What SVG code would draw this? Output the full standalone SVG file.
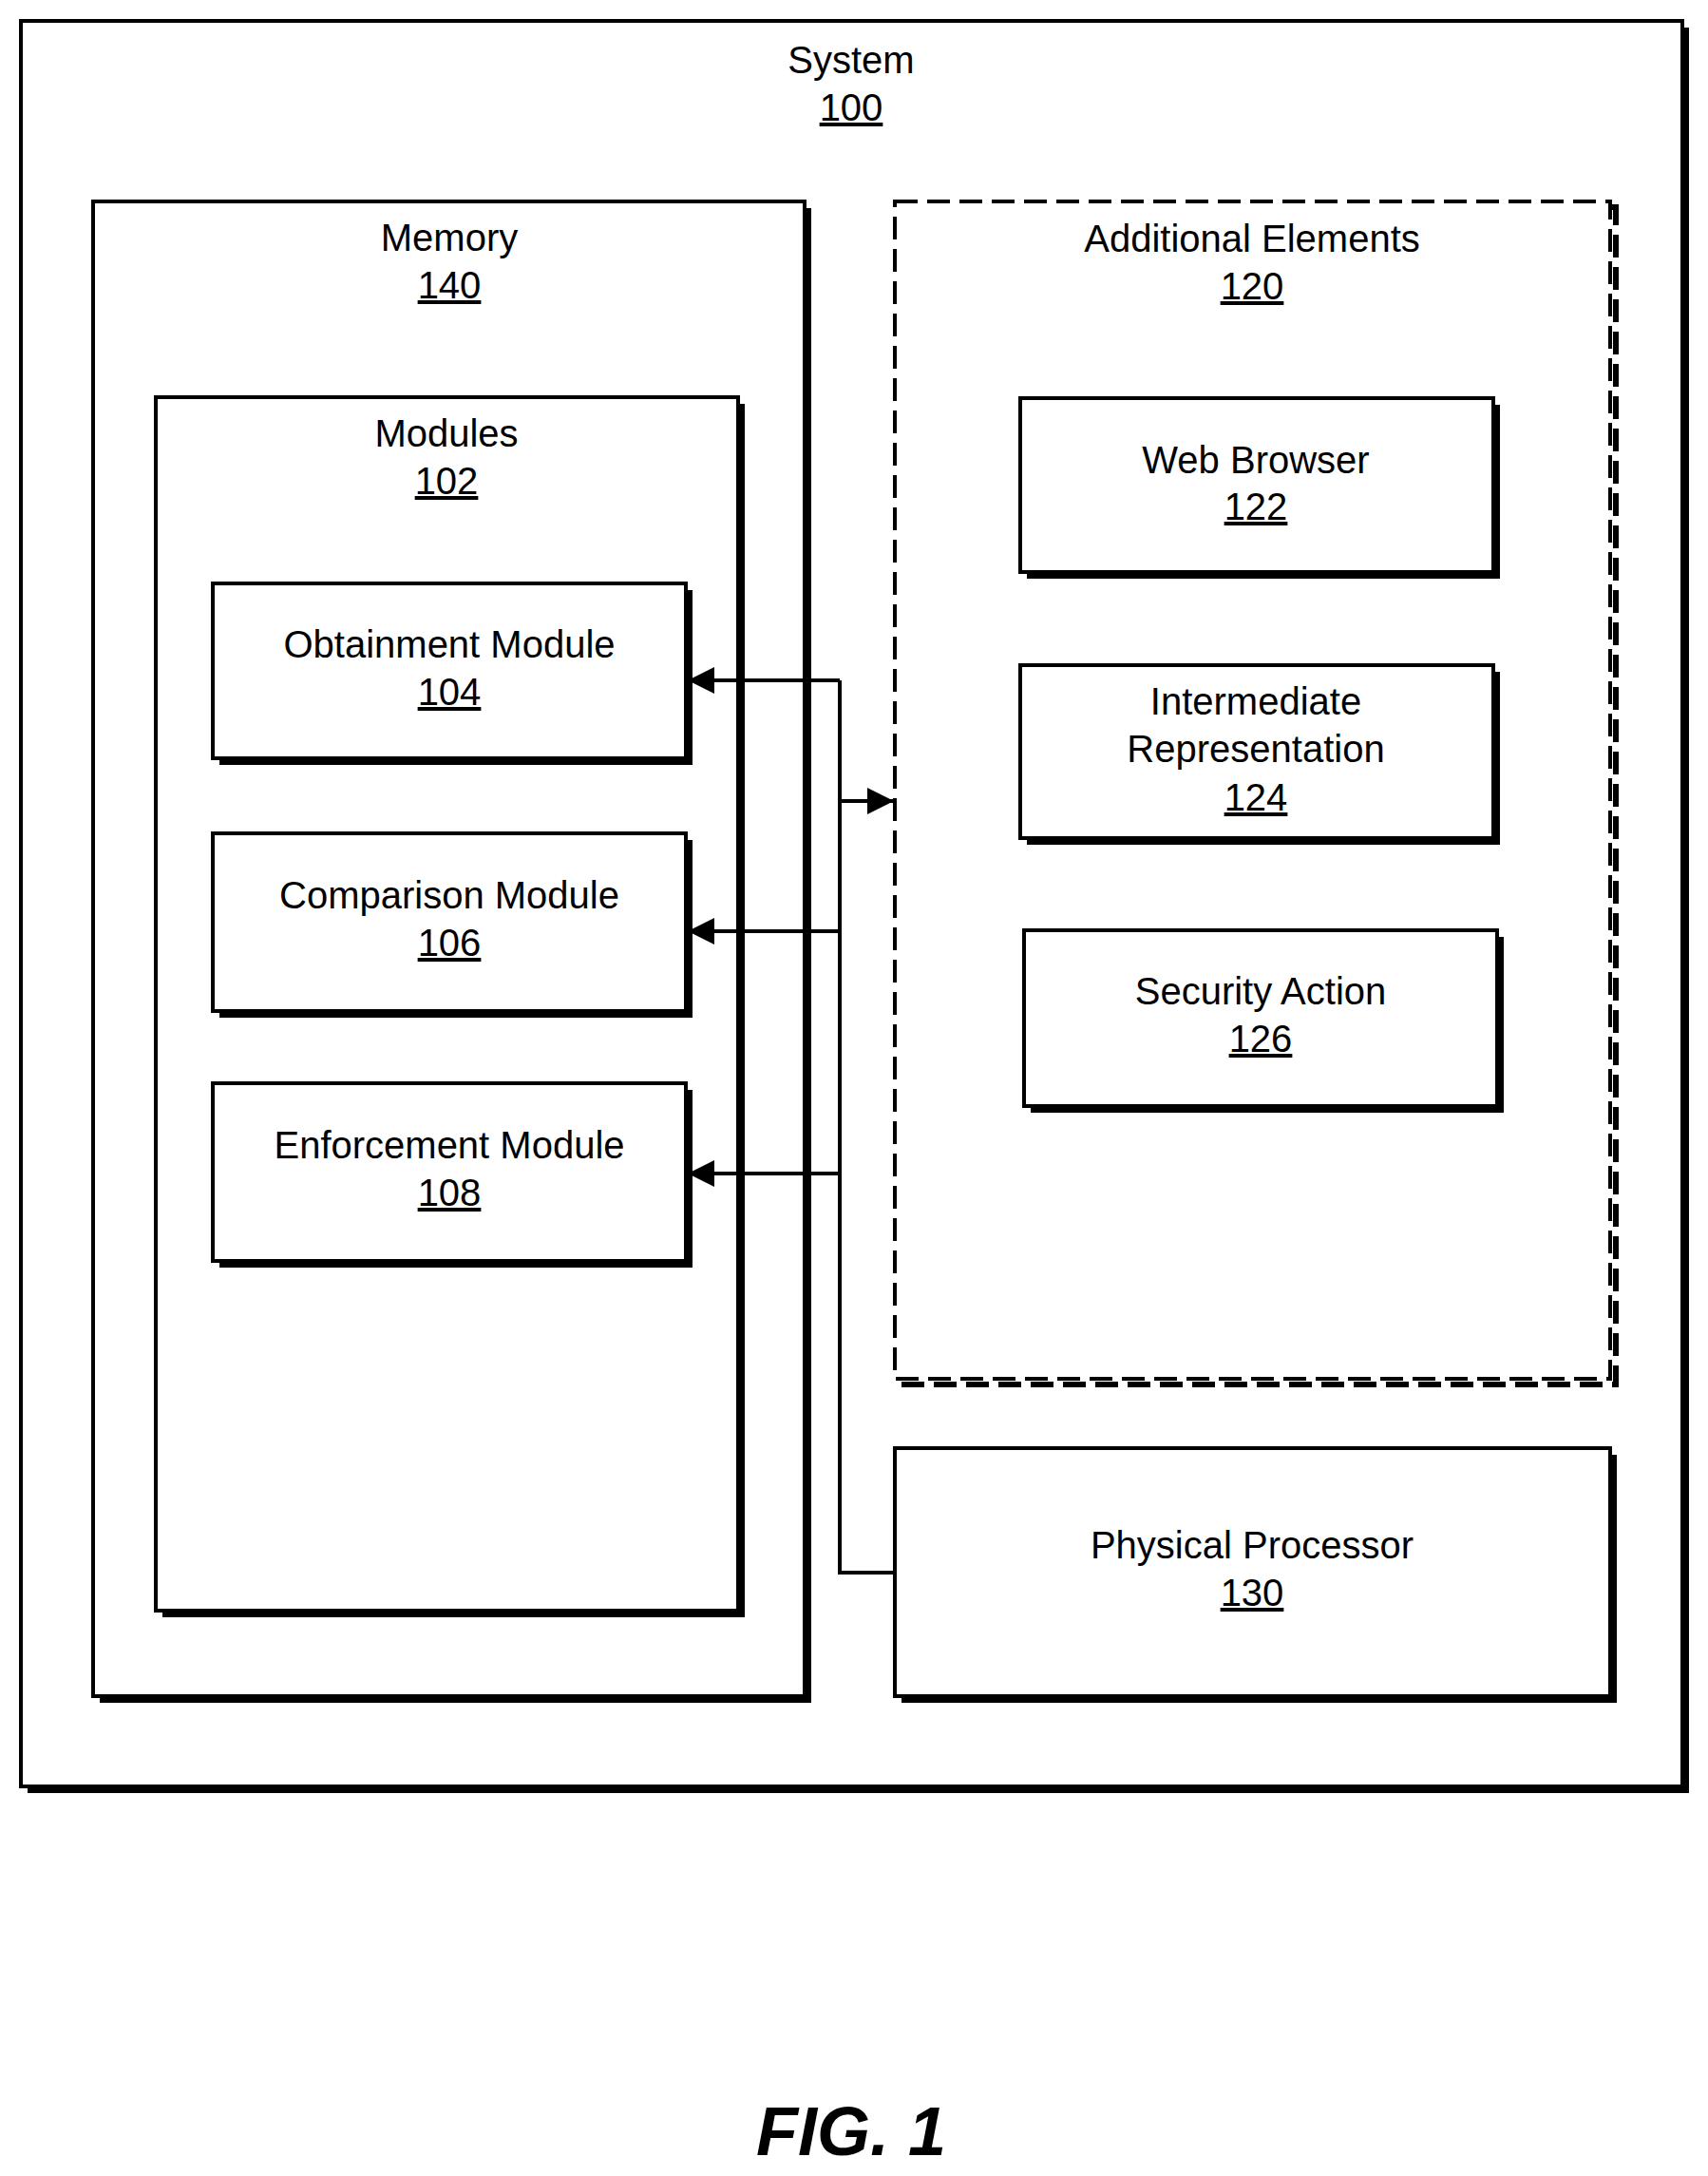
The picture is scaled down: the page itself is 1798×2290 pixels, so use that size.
<svg xmlns="http://www.w3.org/2000/svg" width="1798" height="2290" viewBox="0 0 1798 2290">
<style>
.sh{fill:#000}
.bx{fill:#fff;stroke:#000;stroke-width:4}
.dsh{fill:none;stroke:#000;stroke-width:6;stroke-dasharray:24 10}
.ds{fill:#fff;stroke:#000;stroke-width:4;stroke-dasharray:24 10}
text{font-family:"Liberation Sans",Arial,sans-serif;font-size:40px;text-anchor:middle;fill:#000}
.u{text-decoration:underline}
.ln{fill:none;stroke:#000;stroke-width:4}
</style>
<defs><marker id="a" viewBox="0 0 10 10" refX="10" refY="5" markerWidth="28" markerHeight="28" markerUnits="userSpaceOnUse" orient="auto"><path d="M0,0L10,5L0,10z" fill="#000"/></marker></defs>
<rect width="1798" height="2290" fill="#fff"/>
<g id="system"><rect class="sh" x="29" y="29" width="1749" height="1858"/><rect class="bx" x="22" y="22" width="1749" height="1858"/>
<text x="896" y="77">System</text><text class="u" x="896" y="127">100</text></g>
<g id="memory"><rect class="sh" x="105" y="219" width="749" height="1573"/><rect class="bx" x="98" y="212" width="749" height="1573"/>
<text x="473" y="264">Memory</text><text class="u" x="473" y="314">140</text></g>
<g id="modules"><rect class="sh" x="171" y="425" width="613" height="1277"/><rect class="bx" x="164" y="418" width="613" height="1277"/>
<text x="470" y="470">Modules</text><text class="u" x="470" y="520">102</text></g>
<g id="obtainment"><rect class="sh" x="231" y="621" width="498" height="184"/><rect class="bx" x="224" y="614" width="498" height="184"/>
<text x="473" y="692">Obtainment Module</text><text class="u" x="473" y="742">104</text></g>
<g id="comparison"><rect class="sh" x="231" y="884" width="498" height="187"/><rect class="bx" x="224" y="877" width="498" height="187"/>
<text x="473" y="956">Comparison Module</text><text class="u" x="473" y="1006">106</text></g>
<g id="enforcement"><rect class="sh" x="231" y="1147" width="498" height="187"/><rect class="bx" x="224" y="1140" width="498" height="187"/>
<text x="473" y="1219">Enforcement Module</text><text class="u" x="473" y="1269">108</text></g>
<g id="additional"><rect class="dsh" x="948" y="218" width="753" height="1239"/><rect class="ds" x="942" y="212" width="753" height="1239"/>
<text x="1318" y="265">Additional Elements</text><text class="u" x="1318" y="315">120</text></g>
<g id="browser"><rect class="sh" x="1081" y="426" width="498" height="183"/><rect class="bx" x="1074" y="419" width="498" height="183"/>
<text x="1322" y="498">Web Browser</text><text class="u" x="1322" y="547">122</text></g>
<g id="ir"><rect class="sh" x="1081" y="707" width="498" height="182"/><rect class="bx" x="1074" y="700" width="498" height="182"/>
<text x="1322" y="752">Intermediate</text><text x="1322" y="802">Representation</text><text class="u" x="1322" y="853">124</text></g>
<g id="security"><rect class="sh" x="1085" y="986" width="498" height="185"/><rect class="bx" x="1078" y="979" width="498" height="185"/>
<text x="1327" y="1057">Security Action</text><text class="u" x="1327" y="1107">126</text></g>
<g id="processor"><rect class="sh" x="949" y="1531" width="753" height="261"/><rect class="bx" x="942" y="1524" width="753" height="261"/>
<text x="1318" y="1640">Physical Processor</text><text class="u" x="1318" y="1690">130</text></g>
<g id="connectors">
<path class="ln" d="M884,716V1655H942"/>
<line class="ln" x1="884" y1="716" x2="724" y2="716" marker-end="url(#a)"/>
<line class="ln" x1="884" y1="980" x2="724" y2="980" marker-end="url(#a)"/>
<line class="ln" x1="884" y1="1235" x2="724" y2="1235" marker-end="url(#a)"/>
<line class="ln" x1="884" y1="843" x2="941" y2="843" marker-end="url(#a)"/>
</g>
<text x="896" y="2268" style="font-size:72px;font-weight:bold;font-style:italic">FIG. 1</text>
</svg>
